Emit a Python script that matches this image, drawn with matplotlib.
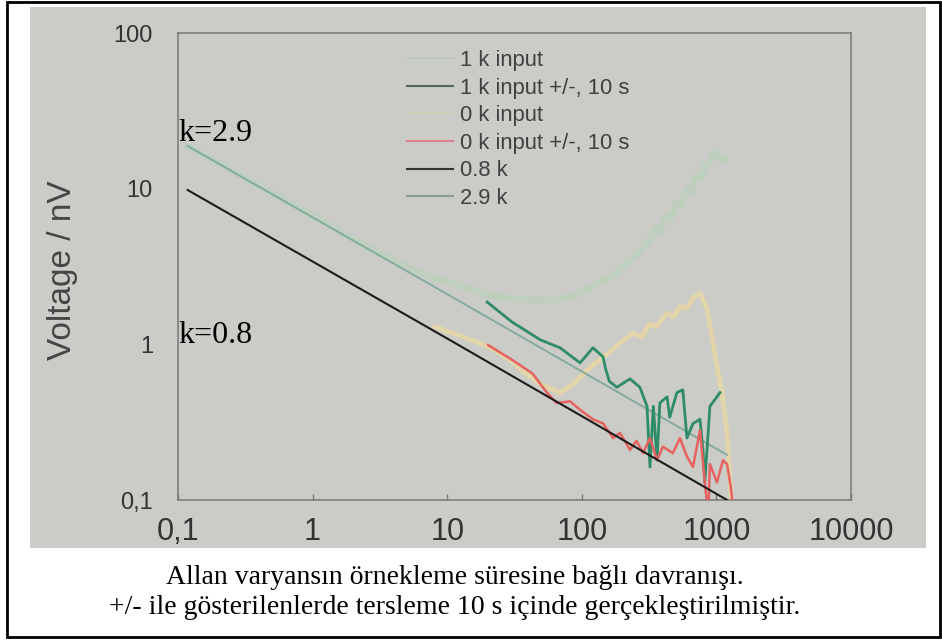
import matplotlib
matplotlib.use('Agg')
from matplotlib import pyplot as plt
from matplotlib.lines import Line2D
from matplotlib.patches import Rectangle
from matplotlib.ticker import FixedLocator, NullLocator

W, H = 942, 641

# series (tau in s, voltage in nV)
tau_08 = [0.118, 10, 1200]
v_08 = [9.8, 1.09, 0.1]

tau_29 = [0.118, 10, 1200]
v_29 = [18.8, 2.1, 0.195]

tau_1k = [0.118, 0.3, 1, 3, 6, 10.5, 18, 25, 35, 43, 60, 80, 97, 130, 160, 190,
          230, 270, 320, 350, 380, 420, 460, 500, 540, 600, 650, 700, 760, 820,
          880, 950, 1009, 1060, 1120, 1200]
v_1k = [18.8, 12, 6.7, 3.9, 2.9, 2.5, 2.15, 2.0, 1.95, 1.93, 1.92, 2.0, 2.14, 2.45,
        2.7, 3.0, 3.5, 4.0, 4.7, 5.5, 5.3, 6.6, 6.5, 8.0, 7.8, 9.8, 9.6, 12.0, 11.8,
        14.0, 14.5, 16.5, 16.9, 16.2, 15.5, 15.3]

tau_0k = [8, 12, 20.8, 30, 39, 50, 69, 85, 109, 150, 200, 240, 280, 320, 360, 430,
          480, 540, 600, 680, 755, 850, 950, 1009, 1100, 1200, 1300]
v_0k = [1.3, 1.15, 0.96, 0.78, 0.64, 0.55, 0.49, 0.55, 0.68, 0.85, 1.05, 1.18, 1.12,
        1.35, 1.3, 1.59, 1.5, 1.75, 1.7, 2.0, 2.14, 1.7, 1.0, 0.72, 0.49, 0.27, 0.09]

tau_1kpm = [19.8, 30, 49, 69, 97, 121, 144, 150, 160, 182, 228, 270, 305, 321, 340,
            362, 380, 430, 450, 509, 563, 604, 670, 755, 795, 820, 895, 1064]
v_1kpm = [1.87, 1.4, 1.07, 0.95, 0.76, 0.95, 0.83, 0.7, 0.58, 0.53, 0.6, 0.53, 0.40,
          0.163, 0.40, 0.18, 0.42, 0.46, 0.34, 0.49, 0.51, 0.25, 0.31, 0.33, 0.21,
          0.13, 0.40, 0.49]

tau_0kpm = [20.1, 30, 43, 55, 65, 82, 97, 121, 144, 171, 192, 228, 255, 285, 321,
            362, 400, 475, 536, 604, 670, 755, 820, 870, 895, 1009, 1120, 1200, 1280,
            1350]
v_0kpm = [0.99, 0.8, 0.65, 0.49, 0.42, 0.43, 0.38, 0.33, 0.31, 0.25, 0.27, 0.21, 0.24,
          0.2, 0.25, 0.18, 0.22, 0.2, 0.25, 0.19, 0.163, 0.28, 0.13, 0.08, 0.17, 0.13,
          0.18, 0.17, 0.12, 0.08]

labels = ["1 k input", "1 k input +/-, 10 s", "0 k input", "0 k input +/-, 10 s",
          "0.8 k", "2.9 k"]
legend_colors = ["#bcc8bc", "#4e6b5f", "#d2cebc", "#e0808a", "#333333", "#8e9d96"]

xticks = [0.1, 1, 10, 100, 1000, 10000]
xtick_labels = ["0,1", "1", "10", "100", "1000", "10000"]
yticks = [0.1, 1, 10, 100]
ytick_labels = ["0,1", "1", "10", "100"]

caption = ["Allan varyansın örnekleme süresine bağlı davranışı.",
           "+/- ile gösterilenlerde tersleme 10 s içinde gerçekleştirilmiştir."]

fig = plt.figure(figsize=(W / 100, H / 100), dpi=100)
fig.patch.set_facecolor('white')

# photo background + outer frame
fig.add_artist(Rectangle((30 / W, 1 - 548 / H), (926 - 30) / W, (548 - 7) / H,
                         transform=fig.transFigure, facecolor='#cbcbc8',
                         edgecolor='none', zorder=0))
fig.add_artist(Rectangle((7 / W, 1 - 637 / H), (940 - 7) / W, (637 - 2) / H,
                         transform=fig.transFigure, fill=False, edgecolor='black',
                         lw=2, zorder=10))

ax = fig.add_axes([178 / W, 1 - 500 / H, (851 - 178) / W, (500 - 33) / H])
ax.set_facecolor('none')
ax.set_xscale('log')
ax.set_yscale('log')

ax.plot(tau_1k, v_1k, color="#bfcfbe", lw=5, solid_capstyle='round', zorder=2)
ax.plot(tau_0k, v_0k, color="#e2d5a9", lw=3.5, solid_capstyle='round', zorder=2)
ax.plot(tau_29, v_29, color="#80a89c", lw=1.3, zorder=3)
ax.plot(tau_1kpm, v_1kpm, color="#2f8c69", lw=2, zorder=4)
ax.plot(tau_0kpm, v_0kpm, color="#e6625e", lw=1.8, zorder=4)
ax.plot(tau_08, v_08, color="#1c1c1c", lw=1.5, zorder=5)

ax.set_xlim(0.1, 10000)
ax.set_ylim(0.1, 100)
ax.xaxis.set_major_locator(FixedLocator(xticks))
ax.set_xticklabels(xtick_labels)
ax.yaxis.set_major_locator(FixedLocator(yticks))
ax.set_yticklabels(ytick_labels)
ax.xaxis.set_minor_locator(NullLocator())
ax.yaxis.set_minor_locator(NullLocator())

for sp in ax.spines.values():
    sp.set_color('#787878')
    sp.set_linewidth(1.1)

ax.tick_params(axis='x', direction='in', length=4, width=1, color='#787878',
               labelsize=22, pad=12.5, labelcolor='#333333')
ax.tick_params(axis='y', length=0, labelsize=17, pad=18, labelcolor='#333333')
for lab in ax.get_xticklabels() + ax.get_yticklabels():
    lab.set_family('Liberation Sans')

handles = [Line2D([], [], color=c, lw=1.5) for c in legend_colors]
leg = ax.legend(handles, labels, loc='upper left',
                bbox_to_anchor=(407 / W, 1 - 50 / H), bbox_transform=fig.transFigure,
                frameon=False, borderpad=0, borderaxespad=0, handlelength=2.1,
                handletextpad=0.3, labelspacing=0.3,
                prop={'family': 'Liberation Sans', 'size': 15.8})
for t in leg.get_texts():
    t.set_color('#404040')

fig.text(63 / W, 1 - 270 / H, "Voltage / nV", rotation=90, ha='center', va='center',
         family='Liberation Sans', fontsize=24, color='#454545')

fig.text(178 / W, 1 - 133 / H, "k=2.9", ha='left', va='center',
         family='Liberation Serif', fontsize=23, color='black')
fig.text(178 / W, 1 - 335 / H, "k=0.8", ha='left', va='center',
         family='Liberation Serif', fontsize=23, color='black')

fig.text(455 / W, 1 - 577 / H, caption[0], ha='center', va='center',
         family='Liberation Serif', fontsize=20, color='black')
fig.text(455 / W, 1 - 607 / H, caption[1], ha='center', va='center',
         family='Liberation Serif', fontsize=20, color='black')

fig.savefig("out.png", dpi=100)
